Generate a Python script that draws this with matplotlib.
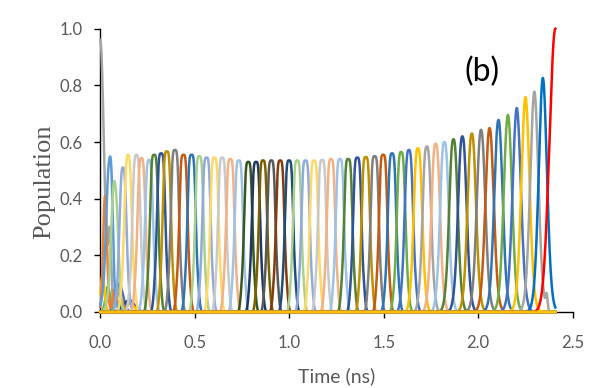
import numpy as np
import matplotlib
matplotlib.use("Agg")
import matplotlib.pyplot as plt

# ---------------- data ----------------
t_end = 2.408  # last time sample (ns)

# main population peaks: time (ns), height, width (ns), shape exponent, colour
peak_t = [0.000, 0.012, 0.025, 0.044, 0.071, 0.120, 0.147, 0.191, 0.218, 0.258,
          0.285, 0.322, 0.352, 0.395, 0.440, 0.483, 0.524, 0.562, 0.604, 0.645,
          0.688, 0.733, 0.783, 0.824, 0.861, 0.905, 0.952, 0.999, 1.042, 1.086,
          1.131, 1.174, 1.221, 1.268, 1.312, 1.360, 1.405, 1.452, 1.497, 1.544,
          1.592, 1.633, 1.681, 1.728, 1.775, 1.821, 1.869, 1.916, 1.966, 2.015,
          2.060, 2.107, 2.157, 2.204, 2.250, 2.297, 2.342, 2.408]
peak_h = [0.96, 0.13, 0.41, 0.49, 0.43, 0.51, 0.555, 0.555, 0.543, 0.537,
          0.555, 0.56, 0.567, 0.572, 0.555, 0.555, 0.55, 0.545, 0.545, 0.545,
          0.54, 0.535, 0.53, 0.53, 0.535, 0.535, 0.535, 0.535, 0.535, 0.535,
          0.535, 0.537, 0.54, 0.54, 0.54, 0.545, 0.547, 0.55, 0.555, 0.56,
          0.565, 0.572, 0.578, 0.584, 0.594, 0.60, 0.61, 0.62, 0.63, 0.643,
          0.649, 0.678, 0.696, 0.72, 0.759, 0.778, 0.826, 1.0]
# width of the narrow core and of the lower shoulder (ns), share of the shoulder
peak_w = [0.018, 0.010, 0.010, 0.012, 0.013, 0.016, 0.017, 0.018, 0.018, 0.018,
          0.019, 0.019, 0.019, 0.019, 0.019, 0.019, 0.019, 0.019, 0.019, 0.019,
          0.019, 0.019, 0.019, 0.019, 0.019, 0.019, 0.019, 0.019, 0.019, 0.019,
          0.019, 0.019, 0.019, 0.019, 0.019, 0.019, 0.019, 0.019, 0.019, 0.019,
          0.019, 0.019, 0.019, 0.019, 0.019, 0.019, 0.019, 0.019, 0.019, 0.019,
          0.019, 0.019, 0.019, 0.019, 0.019, 0.019, 0.019, 0.031]
shoulder_w = [0.024, 0.014, 0.014, 0.022, 0.022, 0.026, 0.028, 0.030, 0.030, 0.030,
              0.031, 0.031, 0.031, 0.031, 0.031, 0.031, 0.031, 0.031, 0.031, 0.031,
              0.031, 0.031, 0.031, 0.031, 0.031, 0.031, 0.031, 0.031, 0.031, 0.031,
              0.031, 0.031, 0.031, 0.031, 0.031, 0.031, 0.031, 0.031, 0.031, 0.031,
              0.031, 0.031, 0.031, 0.031, 0.031, 0.031, 0.030, 0.030, 0.029, 0.029,
              0.028, 0.028, 0.027, 0.027, 0.026, 0.026, 0.026, 0.031]
shoulder_a = [0.3, 0.0, 0.0, 0.35, 0.3, 0.4, 0.45, 0.45, 0.45, 0.45,
              0.45, 0.45, 0.45, 0.45, 0.45, 0.45, 0.45, 0.45, 0.45, 0.45,
              0.45, 0.45, 0.45, 0.45, 0.45, 0.45, 0.45, 0.45, 0.45, 0.45,
              0.45, 0.45, 0.45, 0.45, 0.45, 0.45, 0.45, 0.45, 0.45, 0.45,
              0.45, 0.45, 0.45, 0.45, 0.45, 0.45, 0.45, 0.45, 0.45, 0.45,
              0.45, 0.45, 0.45, 0.45, 0.45, 0.45, 0.45, 0.0]
peak_p = [2, 2, 2, 2, 2, 3, 3, 3.5, 3.5, 3.5,
          4, 4, 4, 4, 4, 4, 4, 4, 4, 4,
          4, 4, 4, 4, 4, 4, 4, 4, 4, 4,
          4, 4, 4, 4, 4, 4, 4, 4, 4, 3.6,
          3.4, 3.2, 3.0, 3.0, 2.8, 2.8, 2.6, 2.5, 2.4, 2.3,
          2.2, 2.2, 2.1, 2.0, 2.0, 2.0, 2.0, 2.0]
peak_color = ["#A5A5A5", "#FFC000", "#ED7D31", "#5B9BD5", "#A9D18E", "#8FAADC",
              "#FFD966", "#C9C9C9", "#F4B183", "#9DC3E6", "#548235", "#2F5597",
              "#BF9000", "#7F7F7F", "#C55A11", "#2E75B6", "#A9D18E", "#8FAADC",
              "#FFD966", "#C9C9C9", "#F4B183", "#9DC3E6", "#385723", "#203864",
              "#7F6000", "#595959", "#843C0C", "#1F4E79", "#A9D18E", "#8FAADC",
              "#FFD966", "#C9C9C9", "#F4B183", "#9DC3E6", "#548235", "#2F5597",
              "#BF9000", "#7F7F7F", "#C55A11", "#2E75B6", "#70AD47", "#4472C4",
              "#FFC000", "#A5A5A5", "#F4B183", "#9DC3E6", "#548235", "#2F5597",
              "#BF9000", "#7F7F7F", "#C55A11", "#2E75B6", "#70AD47", "#4472C4",
              "#FFC000", "#A5A5A5", "#0070C0", "#FF0000"]

# secondary bumps belonging to a main series (index into the peak lists)
bump_of = [0, 0, 2, 2, 3, 4, 1, 55]
bump_t = [0.050, 0.095, 0.075, 0.110, 0.060, 0.090, 0.160, 2.362]
bump_h = [0.25, 0.08, 0.08, 0.05, 0.22, 0.15, 0.03, 0.05]
bump_w = [0.008, 0.012, 0.010, 0.010, 0.008, 0.010, 0.020, 0.005]

# small low-level ripples of other sites at early times
minor_t = [0.100, 0.160, 0.040, 0.090, 0.150]
minor_h = [0.10, 0.04, 0.09, 0.09, 0.04]
minor_w = [0.020, 0.020, 0.012, 0.012, 0.030]
minor_color = ["#4472C4", "#4472C4", "#70AD47", "#70AD47", "#264478"]

x_ticks = [0.0, 0.5, 1.0, 1.5, 2.0, 2.5]
y_ticks = [0.0, 0.2, 0.4, 0.6, 0.8, 1.0]

# ---------------- figure ----------------
plt.rcParams['font.family'] = ['Lato', 'DejaVu Sans']
W, H = 610, 388
AX_L, AX_R, AX_T, AX_B = 100.3, 572.7, 28.7, 312.0
fig = plt.figure(figsize=(W / 100, H / 100), dpi=100)
ax = fig.add_axes([AX_L / W, 1 - AX_B / H, (AX_R - AX_L) / W, (AX_B - AX_T) / H])

t = np.linspace(0.0, t_end, 2409)


def pulse(tc, h, w, p):
    return h * np.exp(-0.5 * np.abs((t - tc) / w) ** p)


series = []
for i in range(len(peak_t)):
    a = shoulder_a[i]
    y = (1 - a) * pulse(peak_t[i], peak_h[i], peak_w[i], peak_p[i]) \
        + a * pulse(peak_t[i], peak_h[i], shoulder_w[i], peak_p[i])
    series.append(y)
for k in range(len(bump_of)):
    series[bump_of[k]] = series[bump_of[k]] + pulse(bump_t[k], bump_h[k], bump_w[k], 2)

lw = 1.8
for k in range(len(minor_t)):
    ax.plot(t, pulse(minor_t[k], minor_h[k], minor_w[k], 2), color=minor_color[k],
            lw=lw, clip_on=False, solid_joinstyle='round', zorder=3)
for i, y in enumerate(series):
    ax.plot(t, y, color=peak_color[i], lw=lw, clip_on=False, solid_joinstyle='round',
            zorder=4 if peak_color[i] == "#FF0000" else 3)

# near-zero site population drawn along the bottom
flat_series = np.zeros_like(t)
ax.plot(t, flat_series, color="#FFC000", lw=2.2, clip_on=False, zorder=5)

ax.set_xlim(0, 2.5)
ax.set_ylim(0, 1.0)
ax.set_xticks(x_ticks)
ax.set_yticks(y_ticks)
ax.set_xticklabels([f"{v:.1f}" for v in x_ticks])
ax.set_yticklabels([f"{v:.1f}" for v in y_ticks])
for s in ["top", "right"]:
    ax.spines[s].set_visible(False)
for s in ["left", "bottom"]:
    ax.spines[s].set_color("black")
    ax.spines[s].set_linewidth(1.0)
    ax.spines[s].set_zorder(2)
ax.tick_params(axis='both', direction='out', length=4.5, width=1.0, color='black',
               labelsize=12, labelcolor='#595959')
ax.tick_params(axis='y', pad=8)
ax.tick_params(axis='x', pad=12)

ax.set_xlabel("Time (ns)", fontsize=14, color='#595959', va='center')
ax.xaxis.set_label_coords(0.5, (AX_B - 376) / (AX_B - AX_T))
ax.set_ylabel("Population", fontsize=19, color='#595959', va='center',
              family=['Liberation Serif', 'DejaVu Serif'])
ax.yaxis.set_label_coords((44 - AX_L) / (AX_R - AX_L), (AX_B - 182) / (AX_B - AX_T))

ax.text(482 / W, 1 - 72 / H, "(b)", transform=fig.transFigure, fontsize=23,
        color='black', ha='center', va='center')

fig.savefig("out.png", dpi=100)
